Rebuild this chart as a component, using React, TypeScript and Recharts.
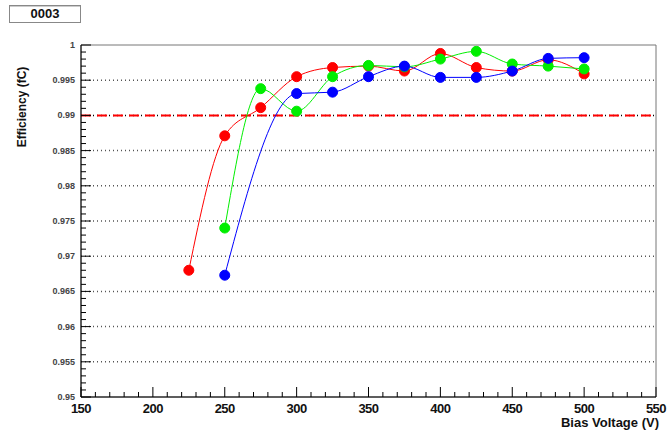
import { LineChart, Line, XAxis, YAxis, ReferenceLine, ReferenceArea } from "recharts";

const voltages = [225, 250, 275, 300, 325, 350, 375, 400, 425, 450, 475, 500];
const redEff = [0.968, 0.9871, 0.9911, 0.9955, 0.9968, 0.997, 0.9963, 0.9988, 0.9968, 0.9963, 0.9979, 0.9959];
const greenEff = [null, 0.974, 0.9938, 0.9906, 0.9955, 0.9971, 0.9969, 0.998, 0.9991, 0.9973, 0.997, 0.9966];
const blueEff = [null, 0.9673, null, 0.9931, 0.9933, 0.9955, 0.997, 0.9954, 0.9954, 0.9963, 0.9981, 0.9982];

const xTicks = [150, 160, 170, 180, 190, 200, 210, 220, 230, 240, 250, 260, 270, 280, 290, 300, 310, 320, 330, 340, 350,
  360, 370, 380, 390, 400, 410, 420, 430, 440, 450, 460, 470, 480, 490, 500, 510, 520, 530, 540, 550];
const yTicks = Array.from({ length: 51 }, (_, i) => +(0.95 + i * 0.001).toFixed(3));
const gridValues = [0.995, 0.985, 0.98, 0.975, 0.97, 0.965, 0.96, 0.955];
const threshold = 0.99;

const data = voltages.map((v, i) => ({ v, red: redEff[i], green: greenEff[i], blue: blueEff[i] }));

const XTick = ({ x, y, payload }: any) => {
  const major = payload.value % 50 === 0;
  return (
    <g>
      <line x1={x} x2={x} y1={y} y2={y - (major ? 10 : 5)} stroke="#000" />
      {major && (
        <text x={x} y={y + 16} textAnchor="middle" fontSize={13} fontWeight="bold" fill="#111"
          fontFamily="Liberation Sans Narrow, Liberation Sans, Arial" letterSpacing={-0.5}>
          {payload.value}
        </text>
      )}
    </g>
  );
};

const YTick = ({ x, y, payload }: any) => {
  const v = payload.value;
  const major = Math.round(v * 1000) % 5 === 0;
  return (
    <g>
      <line x1={x} x2={x + (major ? 10 : 5)} y1={y} y2={y} stroke="#000" />
      {major && (
        <text x={x - 6} y={y + 3} textAnchor="end" fontSize={9} fontWeight="bold" fill="#444"
          fontFamily="Liberation Sans, Arial">
          {String(Number(v.toFixed(3)))}
        </text>
      )}
    </g>
  );
};

export default function App() {
  return (
    <div style={{ position: "absolute", left: 0, top: 0, width: 671, height: 434, background: "#fff", fontFamily: "Liberation Sans, Arial" }}>
      <div style={{ position: "absolute", left: 9, top: 5, width: 70, height: 16, border: "1px solid #888",
        boxShadow: "inset 0 1px 0 #ccc", textAlign: "center", fontWeight: "bold", fontSize: 13, lineHeight: "16px", color: "#111" }}>
        0003
      </div>
      <div style={{ position: "absolute", left: 22, top: 107, transform: "translate(-50%, -50%) rotate(-90deg)",
        fontWeight: "bold", fontSize: 12, whiteSpace: "nowrap", color: "#111" }}>
        Efficiency (fC)
      </div>
      <div style={{ position: "absolute", right: 12, top: 415, fontWeight: "bold", fontSize: 13, color: "#111" }}>
        Bias Voltage (V)
      </div>
      <LineChart width={671} height={434} data={data} margin={{ top: 45, right: 15, bottom: 0, left: 0 }}>
        <XAxis dataKey="v" type="number" domain={[150, 550]} ticks={xTicks} interval={0} tick={<XTick />}
          tickLine={false} tickSize={0} tickMargin={0} axisLine={{ stroke: "#000" }} height={37} />
        <YAxis type="number" domain={[0.95, 1]} ticks={yTicks} interval={0} tick={<YTick />}
          tickLine={false} tickSize={0} tickMargin={0} axisLine={{ stroke: "#000" }} width={81} allowDataOverflow />
        <ReferenceArea x1={150} x2={550} y1={0.95} y2={1} fill="none" stroke="#777" strokeWidth={1} ifOverflow="extendDomain" />
        {gridValues.map((g) => (
          <ReferenceLine key={g} y={g} stroke="#555" strokeDasharray="1 3" strokeWidth={1.5} />
        ))}
        <ReferenceLine y={threshold} stroke="#000" strokeDasharray="1 3" strokeWidth={1.5} />
        <ReferenceLine y={threshold} stroke="#ff0000" strokeDasharray="10 6" strokeWidth={2} />
        <Line dataKey="red" type="monotone" stroke="#ff0000" strokeWidth={1} connectNulls
          dot={{ r: 5, fill: "#ff0000", stroke: "#ff0000" }} isAnimationActive={false} />
        <Line dataKey="green" type="monotone" stroke="#00ee00" strokeWidth={1} connectNulls
          dot={{ r: 5, fill: "#00ee00", stroke: "#00ee00" }} isAnimationActive={false} />
        <Line dataKey="blue" type="monotone" stroke="#0000ff" strokeWidth={1} connectNulls
          dot={{ r: 5, fill: "#0000ff", stroke: "#0000ff" }} isAnimationActive={false} />
      </LineChart>
    </div>
  );
}
